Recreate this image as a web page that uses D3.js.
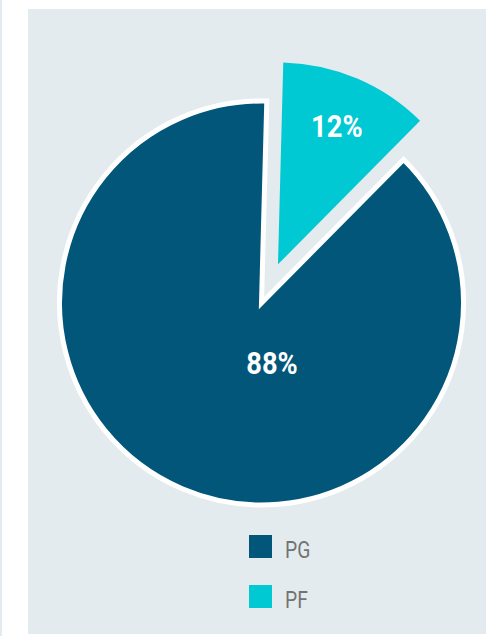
<!DOCTYPE html>
<html>
<head>
<meta charset="utf-8">
<script src="https://cdn.jsdelivr.net/npm/d3@7"></script>
<style>
  html, body { margin: 0; padding: 0; background: #fff; }
  svg { display: block; }
</style>
</head>
<body>
<svg id="chart" width="486" height="636"></svg>
<script>
var categories = ['PG', 'PF'];
var values = [88, 12];
var labels = ['88%', '12%'];
var colors = ['#02567a', '#00c9d3'];

var width = 486,
  height = 636,
  cx = 261.5,
  cy = 303,
  radius = 202,
  explode = 42,
  rotate = 1.5 * Math.PI / 180;

var svg = d3.select('#chart');

// thin strip on the far left and the panel
svg.append('rect').attr('x', 0).attr('y', 0).attr('width', 2).attr('height', height).attr('fill', '#e4ebee');
svg.append('rect').attr('x', 28).attr('y', 9).attr('width', width - 28).attr('height', 625).attr('fill', '#e4ebee');

var data = categories.map(function (c, i) {
  return { name: c, value: values[i], label: labels[i], color: colors[i] };
});

// PF starts at the top, PG takes the rest
var pie = d3.pie()
  .sort(null)
  .value(function (d) { return d.value; })
  .startAngle(rotate + 2 * Math.PI * values[1] / 100)
  .endAngle(rotate + 2 * Math.PI * (1 + values[1] / 100));

var arcs = pie(data);

var arc = d3.arc().innerRadius(0).outerRadius(radius);
var labelArc = d3.arc().innerRadius(150).outerRadius(150);

var g = svg.append('g').attr('transform', 'translate(' + cx + ',' + cy + ')');

var slices = g.selectAll('g.slice')
  .data(arcs)
  .enter().append('g')
  .attr('class', 'slice')
  .attr('transform', function (d) {
    if (d.data.name !== 'PF') return null;
    var a = (d.startAngle + d.endAngle) / 2;
    return 'translate(' + (Math.sin(a) * explode) + ',' + (-Math.cos(a) * explode) + ')';
  });

slices.append('path')
  .attr('d', arc)
  .style('fill', function (d) { return d.data.color; })
  .style('stroke', function (d) { return d.data.name === 'PG' ? '#fff' : 'none'; })
  .style('stroke-width', 5)
  .style('stroke-linejoin', 'miter');

slices.append('text')
  .attr('transform', function (d) {
    var p = d.data.name === 'PF' ? labelArc.centroid(d) : [10.5, 60];
    return 'translate(' + p[0] + ',' + (p[1] + 11) + ') scale(0.88,1)';
  })
  .attr('text-anchor', 'middle')
  .style('font-family', 'Roboto, sans-serif')
  .style('font-weight', 'bold')
  .style('font-size', '31px')
  .style('fill', '#fff')
  .text(function (d) { return d.data.label; });

// legend
var legend = svg.append('g').attr('transform', 'translate(249,535)');
var item = legend.selectAll('g')
  .data(data)
  .enter().append('g')
  .attr('transform', function (d, i) { return 'translate(0,' + (i * 50) + ')'; });

item.append('rect')
  .attr('width', 23)
  .attr('height', 23)
  .style('fill', function (d) { return d.color; });

item.append('text')
  .attr('transform', 'translate(36,23) scale(0.84,1)')
  .style('font-family', 'Roboto, sans-serif')
  .style('font-size', '23px')
  .style('fill', '#737373')
  .text(function (d) { return d.name; });
</script>
</body>
</html>
